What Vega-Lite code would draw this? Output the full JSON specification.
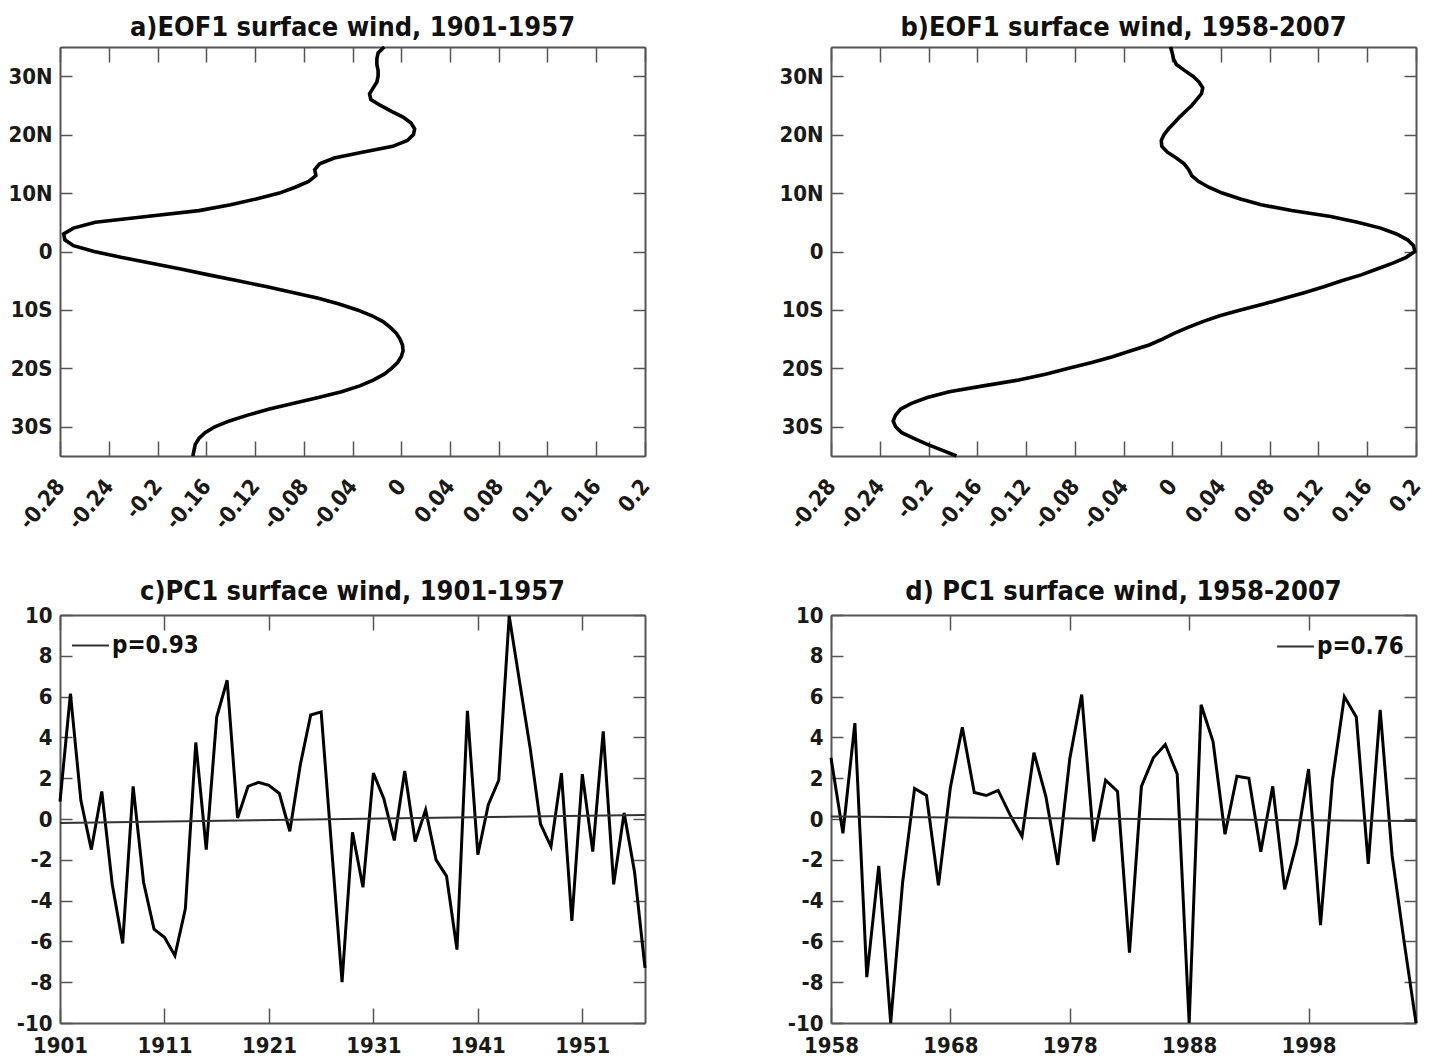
{
  "$schema": "https://vega.github.io/schema/vega-lite/v6.json",
  "padding": {"left": 7, "top": 13, "right": 5, "bottom": 3},
  "bounds": "flush",
  "columns": 2,
  "spacing": {"row": 159, "column": 186},
  "background": "white",
  "config": {
    "font": "DejaVu Sans Condensed",
    "view": {"stroke": null},
    "axis": {
      "grid": false,
      "domainColor": "#555",
      "domainWidth": 2,
      "tickColor": "#555",
      "tickWidth": 1.5,
      "labelFont": "DejaVu Sans Condensed",
      "labelFontWeight": "bold",
      "labelFontSize": 22,
      "labelColor": "#1a1a1a",
      "labelFlush": false,
      "labelOverlap": false
    },
    "title": {"font": "DejaVu Sans Condensed", "fontSize": 27, "fontWeight": "bold", "color": "#111", "offset": -2, "anchor": "middle", "frame": "group", "baseline": "alphabetic"},
    "legend": {
      "symbolType": "stroke",
      "symbolSize": 1369,
      "symbolStrokeWidth": 2,
      "labelFont": "DejaVu Sans Condensed",
      "labelFontWeight": "bold",
      "labelFontSize": 24,
      "labelColor": "#111",
      "labelOffset": 2,
      "padding": 0,
      "title": null
    }
  },
  "resolve": {"scale": {"color": "independent"}, "legend": {"color": "independent"}},
  "datasets": {
    "eofA": [
      {"lat": 35, "value": -0.014}, {"lat": 34, "value": -0.019}, {"lat": 33, "value": -0.020}, {"lat": 32, "value": -0.020},
      {"lat": 31, "value": -0.019}, {"lat": 30, "value": -0.019}, {"lat": 29, "value": -0.020}, {"lat": 28, "value": -0.023},
      {"lat": 27, "value": -0.026}, {"lat": 26, "value": -0.025}, {"lat": 25, "value": -0.017}, {"lat": 24, "value": -0.008},
      {"lat": 23, "value": 0.0015}, {"lat": 22, "value": 0.008}, {"lat": 21, "value": 0.011}, {"lat": 20, "value": 0.010},
      {"lat": 19, "value": 0.005}, {"lat": 18, "value": -0.007}, {"lat": 17, "value": -0.032}, {"lat": 16, "value": -0.055},
      {"lat": 15, "value": -0.067}, {"lat": 14, "value": -0.071}, {"lat": 13, "value": -0.070}, {"lat": 12, "value": -0.076},
      {"lat": 11, "value": -0.087}, {"lat": 10, "value": -0.100}, {"lat": 9, "value": -0.119}, {"lat": 8, "value": -0.140},
      {"lat": 7, "value": -0.166}, {"lat": 6, "value": -0.209}, {"lat": 5, "value": -0.251}, {"lat": 4, "value": -0.269},
      {"lat": 3, "value": -0.277}, {"lat": 2, "value": -0.276}, {"lat": 1, "value": -0.269}, {"lat": 0, "value": -0.252},
      {"lat": -1, "value": -0.230}, {"lat": -2, "value": -0.205}, {"lat": -3, "value": -0.181}, {"lat": -4, "value": -0.158},
      {"lat": -5, "value": -0.134}, {"lat": -6, "value": -0.111}, {"lat": -7, "value": -0.089}, {"lat": -8, "value": -0.068},
      {"lat": -9, "value": -0.051}, {"lat": -10, "value": -0.036}, {"lat": -11, "value": -0.024}, {"lat": -12, "value": -0.015},
      {"lat": -13, "value": -0.009}, {"lat": -14, "value": -0.004}, {"lat": -15, "value": -0.001}, {"lat": -16, "value": 0.001},
      {"lat": -17, "value": 0.0015}, {"lat": -18, "value": 0.0}, {"lat": -19, "value": -0.003}, {"lat": -20, "value": -0.008},
      {"lat": -21, "value": -0.014}, {"lat": -22, "value": -0.023}, {"lat": -23, "value": -0.034}, {"lat": -24, "value": -0.049},
      {"lat": -25, "value": -0.068}, {"lat": -26, "value": -0.089}, {"lat": -27, "value": -0.109}, {"lat": -28, "value": -0.126},
      {"lat": -29, "value": -0.141}, {"lat": -30, "value": -0.153}, {"lat": -31, "value": -0.161}, {"lat": -32, "value": -0.166},
      {"lat": -33, "value": -0.169}, {"lat": -34, "value": -0.170}, {"lat": -35, "value": -0.171}
    ],
    "eofB": [
      {"lat": 35, "value": -0.0015}, {"lat": 34, "value": 0.0}, {"lat": 33, "value": 0.001}, {"lat": 32, "value": 0.0034},
      {"lat": 31, "value": 0.010}, {"lat": 30, "value": 0.017}, {"lat": 29, "value": 0.022}, {"lat": 28, "value": 0.025},
      {"lat": 27, "value": 0.024}, {"lat": 26, "value": 0.020}, {"lat": 25, "value": 0.016}, {"lat": 24, "value": 0.011},
      {"lat": 23, "value": 0.006}, {"lat": 22, "value": 0.0015}, {"lat": 21, "value": -0.003}, {"lat": 20, "value": -0.0068},
      {"lat": 19, "value": -0.009}, {"lat": 18, "value": -0.0086}, {"lat": 17, "value": -0.004}, {"lat": 16, "value": 0.0034},
      {"lat": 15, "value": 0.0098}, {"lat": 14, "value": 0.0135}, {"lat": 13, "value": 0.016}, {"lat": 12, "value": 0.0214},
      {"lat": 11, "value": 0.030}, {"lat": 10, "value": 0.041}, {"lat": 9, "value": 0.056}, {"lat": 8, "value": 0.073},
      {"lat": 7, "value": 0.098}, {"lat": 6, "value": 0.130}, {"lat": 5, "value": 0.152}, {"lat": 4, "value": 0.171},
      {"lat": 3, "value": 0.184}, {"lat": 2, "value": 0.193}, {"lat": 1, "value": 0.198}, {"lat": 0, "value": 0.199},
      {"lat": -1, "value": 0.192}, {"lat": -2, "value": 0.181}, {"lat": -3, "value": 0.168}, {"lat": -4, "value": 0.155},
      {"lat": -5, "value": 0.139}, {"lat": -6, "value": 0.125}, {"lat": -7, "value": 0.109}, {"lat": -8, "value": 0.092},
      {"lat": -9, "value": 0.075}, {"lat": -10, "value": 0.056}, {"lat": -11, "value": 0.039}, {"lat": -12, "value": 0.025},
      {"lat": -13, "value": 0.013}, {"lat": -14, "value": 0.0015}, {"lat": -15, "value": -0.008}, {"lat": -16, "value": -0.019},
      {"lat": -17, "value": -0.034}, {"lat": -18, "value": -0.049}, {"lat": -19, "value": -0.066}, {"lat": -20, "value": -0.085},
      {"lat": -21, "value": -0.104}, {"lat": -22, "value": -0.126}, {"lat": -23, "value": -0.155}, {"lat": -24, "value": -0.183},
      {"lat": -25, "value": -0.201}, {"lat": -26, "value": -0.214}, {"lat": -27, "value": -0.223}, {"lat": -28, "value": -0.227},
      {"lat": -29, "value": -0.229}, {"lat": -30, "value": -0.227}, {"lat": -31, "value": -0.222}, {"lat": -32, "value": -0.212},
      {"lat": -33, "value": -0.201}, {"lat": -34, "value": -0.189}, {"lat": -35, "value": -0.177}
    ],
    "pcC": [
      {"year": 1901, "pc": 0.85}, {"year": 1902, "pc": 6.15}, {"year": 1903, "pc": 0.9}, {"year": 1904, "pc": -1.5},
      {"year": 1905, "pc": 1.35}, {"year": 1906, "pc": -3.2}, {"year": 1907, "pc": -6.1}, {"year": 1908, "pc": 1.6},
      {"year": 1909, "pc": -3.1}, {"year": 1910, "pc": -5.4}, {"year": 1911, "pc": -5.8}, {"year": 1912, "pc": -6.7},
      {"year": 1913, "pc": -4.4}, {"year": 1914, "pc": 3.75}, {"year": 1915, "pc": -1.5}, {"year": 1916, "pc": 5.0},
      {"year": 1917, "pc": 6.8}, {"year": 1918, "pc": 0.05}, {"year": 1919, "pc": 1.6}, {"year": 1920, "pc": 1.8},
      {"year": 1921, "pc": 1.65}, {"year": 1922, "pc": 1.25}, {"year": 1923, "pc": -0.6}, {"year": 1924, "pc": 2.65},
      {"year": 1925, "pc": 5.1}, {"year": 1926, "pc": 5.25}, {"year": 1927, "pc": -1.4}, {"year": 1928, "pc": -8.0},
      {"year": 1929, "pc": -0.65}, {"year": 1930, "pc": -3.35}, {"year": 1931, "pc": 2.25}, {"year": 1932, "pc": 1.0},
      {"year": 1933, "pc": -1.05}, {"year": 1934, "pc": 2.35}, {"year": 1935, "pc": -1.1}, {"year": 1936, "pc": 0.45},
      {"year": 1937, "pc": -2.0}, {"year": 1938, "pc": -2.8}, {"year": 1939, "pc": -6.4}, {"year": 1940, "pc": 5.3},
      {"year": 1941, "pc": -1.75}, {"year": 1942, "pc": 0.7}, {"year": 1943, "pc": 1.9}, {"year": 1944, "pc": 9.95},
      {"year": 1945, "pc": 6.7}, {"year": 1946, "pc": 3.5}, {"year": 1947, "pc": -0.25}, {"year": 1948, "pc": -1.35},
      {"year": 1949, "pc": 2.25}, {"year": 1950, "pc": -5.0}, {"year": 1951, "pc": 2.2}, {"year": 1952, "pc": -1.6},
      {"year": 1953, "pc": 4.3}, {"year": 1954, "pc": -3.2}, {"year": 1955, "pc": 0.3}, {"year": 1956, "pc": -2.6},
      {"year": 1957, "pc": -7.3}
    ],
    "pcD": [
      {"year": 1958, "pc": 3.0}, {"year": 1959, "pc": -0.7}, {"year": 1960, "pc": 4.7}, {"year": 1961, "pc": -7.75},
      {"year": 1962, "pc": -2.3}, {"year": 1963, "pc": -10.0}, {"year": 1964, "pc": -3.1}, {"year": 1965, "pc": 1.5},
      {"year": 1966, "pc": 1.15}, {"year": 1967, "pc": -3.25}, {"year": 1968, "pc": 1.55}, {"year": 1969, "pc": 4.5},
      {"year": 1970, "pc": 1.3}, {"year": 1971, "pc": 1.15}, {"year": 1972, "pc": 1.4}, {"year": 1973, "pc": 0.2},
      {"year": 1974, "pc": -0.85}, {"year": 1975, "pc": 3.25}, {"year": 1976, "pc": 1.1}, {"year": 1977, "pc": -2.25},
      {"year": 1978, "pc": 2.95}, {"year": 1979, "pc": 6.1}, {"year": 1980, "pc": -1.1}, {"year": 1981, "pc": 1.9},
      {"year": 1982, "pc": 1.35}, {"year": 1983, "pc": -6.55}, {"year": 1984, "pc": 1.6}, {"year": 1985, "pc": 3.0},
      {"year": 1986, "pc": 3.65}, {"year": 1987, "pc": 2.2}, {"year": 1988, "pc": -10.0}, {"year": 1989, "pc": 5.6},
      {"year": 1990, "pc": 3.8}, {"year": 1991, "pc": -0.75}, {"year": 1992, "pc": 2.1}, {"year": 1993, "pc": 2.0},
      {"year": 1994, "pc": -1.6}, {"year": 1995, "pc": 1.6}, {"year": 1996, "pc": -3.45}, {"year": 1997, "pc": -1.2},
      {"year": 1998, "pc": 2.45}, {"year": 1999, "pc": -5.2}, {"year": 2000, "pc": 1.9}, {"year": 2001, "pc": 6.0},
      {"year": 2002, "pc": 5.0}, {"year": 2003, "pc": -2.2}, {"year": 2004, "pc": 5.35}, {"year": 2005, "pc": -1.8},
      {"year": 2006, "pc": -6.0}, {"year": 2007, "pc": -10.0}
    ],
    "trendC": [
      {"year": 1901, "pc": -0.2, "label": "p=0.93"},
      {"year": 1957, "pc": 0.2, "label": "p=0.93"}
    ],
    "trendD": [
      {"year": 1958, "pc": 0.12, "label": "p=0.76"},
      {"year": 2007, "pc": -0.1, "label": "p=0.76"}
    ]
  },
  "concat": [
    {
      "title": "a)EOF1 surface wind, 1901-1957",
      "width": 585,
      "height": 409,
      "data": {"name": "eofA"},
      "layer": [
        {
          "mark": {"type": "line", "color": "black", "strokeWidth": 3.6},
          "encoding": {
            "x": {"field": "value", "type": "quantitative", "title": null,
              "scale": {"domain": [-0.28, 0.2], "nice": false, "zero": false},
              "axis": {"orient": "bottom", "values": [-0.28, -0.24, -0.2, -0.16, -0.12, -0.08, -0.04, 0, 0.04, 0.08, 0.12, 0.16, 0.2],
                "labelExpr": "toString(datum.value)", "labelAngle": -50, "tickSize": -15, "labelPadding": 41}},
            "y": {"field": "lat", "type": "quantitative", "title": null,
              "scale": {"domain": [-35, 35], "nice": false, "zero": false},
              "axis": {"orient": "left", "values": [-30, -20, -10, 0, 10, 20, 30],
                "labelExpr": "datum.value > 0 ? datum.value + 'N' : (datum.value < 0 ? (-datum.value) + 'S' : '0')",
                "tickSize": -12, "labelPadding": 20}},
            "order": {"field": "lat", "type": "quantitative"}
          }
        },
        {
          "mark": {"type": "line", "opacity": 0},
          "encoding": {
            "x": {"field": "value", "type": "quantitative", "title": null,
              "axis": {"orient": "top", "labels": false, "values": [-0.28, -0.24, -0.2, -0.16, -0.12, -0.08, -0.04, 0, 0.04, 0.08, 0.12, 0.16, 0.2], "tickSize": -15}},
            "y": {"field": "lat", "type": "quantitative", "title": null,
              "axis": {"orient": "right", "labels": false, "values": [-30, -20, -10, 0, 10, 20, 30], "tickSize": -12}},
            "order": {"field": "lat", "type": "quantitative"}
          }
        }
      ],
      "resolve": {"axis": {"x": "independent", "y": "independent"}}
    },
    {
      "title": "b)EOF1 surface wind, 1958-2007",
      "width": 585,
      "height": 409,
      "data": {"name": "eofB"},
      "layer": [
        {
          "mark": {"type": "line", "color": "black", "strokeWidth": 3.6},
          "encoding": {
            "x": {"field": "value", "type": "quantitative", "title": null,
              "scale": {"domain": [-0.28, 0.2], "nice": false, "zero": false},
              "axis": {"orient": "bottom", "values": [-0.28, -0.24, -0.2, -0.16, -0.12, -0.08, -0.04, 0, 0.04, 0.08, 0.12, 0.16, 0.2],
                "labelExpr": "toString(datum.value)", "labelAngle": -50, "tickSize": -15, "labelPadding": 41}},
            "y": {"field": "lat", "type": "quantitative", "title": null,
              "scale": {"domain": [-35, 35], "nice": false, "zero": false},
              "axis": {"orient": "left", "values": [-30, -20, -10, 0, 10, 20, 30],
                "labelExpr": "datum.value > 0 ? datum.value + 'N' : (datum.value < 0 ? (-datum.value) + 'S' : '0')",
                "tickSize": -12, "labelPadding": 20}},
            "order": {"field": "lat", "type": "quantitative"}
          }
        },
        {
          "mark": {"type": "line", "opacity": 0},
          "encoding": {
            "x": {"field": "value", "type": "quantitative", "title": null,
              "axis": {"orient": "top", "labels": false, "values": [-0.28, -0.24, -0.2, -0.16, -0.12, -0.08, -0.04, 0, 0.04, 0.08, 0.12, 0.16, 0.2], "tickSize": -15}},
            "y": {"field": "lat", "type": "quantitative", "title": null,
              "axis": {"orient": "right", "labels": false, "values": [-30, -20, -10, 0, 10, 20, 30], "tickSize": -12}},
            "order": {"field": "lat", "type": "quantitative"}
          }
        }
      ],
      "resolve": {"axis": {"x": "independent", "y": "independent"}}
    },
    {
      "title": "c)PC1 surface wind, 1901-1957",
      "width": 585,
      "height": 408,
      "layer": [
        {
          "data": {"name": "pcC"},
          "mark": {"type": "line", "color": "black", "strokeWidth": 3},
          "encoding": {
            "x": {"field": "year", "type": "quantitative", "title": null,
              "scale": {"domain": [1901, 1957], "nice": false, "zero": false},
              "axis": {"orient": "bottom", "values": [1901, 1911, 1921, 1931, 1941, 1951], "labelExpr": "toString(datum.value)", "tickSize": -15, "labelPadding": 27}},
            "y": {"field": "pc", "type": "quantitative", "title": null,
              "scale": {"domain": [-10, 10], "nice": false, "zero": false},
              "axis": {"orient": "left", "values": [-10, -8, -6, -4, -2, 0, 2, 4, 6, 8, 10], "labelExpr": "toString(datum.value)", "tickSize": -12, "labelPadding": 20}}
          }
        },
        {
          "data": {"name": "trendC"},
          "mark": {"type": "line", "strokeWidth": 2},
          "encoding": {
            "x": {"field": "year", "type": "quantitative", "title": null,
              "axis": {"orient": "top", "labels": false, "values": [1901, 1911, 1921, 1931, 1941, 1951], "tickSize": -15}},
            "y": {"field": "pc", "type": "quantitative", "title": null,
              "axis": {"orient": "right", "labels": false, "values": [-10, -8, -6, -4, -2, 0, 2, 4, 6, 8, 10], "tickSize": -12}},
            "color": {"field": "label", "type": "nominal", "scale": {"range": ["#333333"]},
              "legend": {"orient": "top-left", "offset": 11, "title": null}}
          }
        }
      ],
      "resolve": {"axis": {"x": "independent", "y": "independent"}}
    },
    {
      "title": "d) PC1 surface wind, 1958-2007",
      "width": 585,
      "height": 408,
      "layer": [
        {
          "data": {"name": "pcD"},
          "mark": {"type": "line", "color": "black", "strokeWidth": 3},
          "encoding": {
            "x": {"field": "year", "type": "quantitative", "title": null,
              "scale": {"domain": [1958, 2007], "nice": false, "zero": false},
              "axis": {"orient": "bottom", "values": [1958, 1968, 1978, 1988, 1998], "labelExpr": "toString(datum.value)", "tickSize": -15, "labelPadding": 27}},
            "y": {"field": "pc", "type": "quantitative", "title": null,
              "scale": {"domain": [-10, 10], "nice": false, "zero": false},
              "axis": {"orient": "left", "values": [-10, -8, -6, -4, -2, 0, 2, 4, 6, 8, 10], "labelExpr": "toString(datum.value)", "tickSize": -12, "labelPadding": 20}}
          }
        },
        {
          "data": {"name": "trendD"},
          "mark": {"type": "line", "strokeWidth": 2},
          "encoding": {
            "x": {"field": "year", "type": "quantitative", "title": null,
              "axis": {"orient": "top", "labels": false, "values": [1958, 1968, 1978, 1988, 1998], "tickSize": -15}},
            "y": {"field": "pc", "type": "quantitative", "title": null,
              "axis": {"orient": "right", "labels": false, "values": [-10, -8, -6, -4, -2, 0, 2, 4, 6, 8, 10], "tickSize": -12}},
            "color": {"field": "label", "type": "nominal", "scale": {"range": ["#333333"]},
              "legend": {"orient": "top-right", "offset": 12, "title": null}}
          }
        }
      ],
      "resolve": {"axis": {"x": "independent", "y": "independent"}}
    }
  ]
}
